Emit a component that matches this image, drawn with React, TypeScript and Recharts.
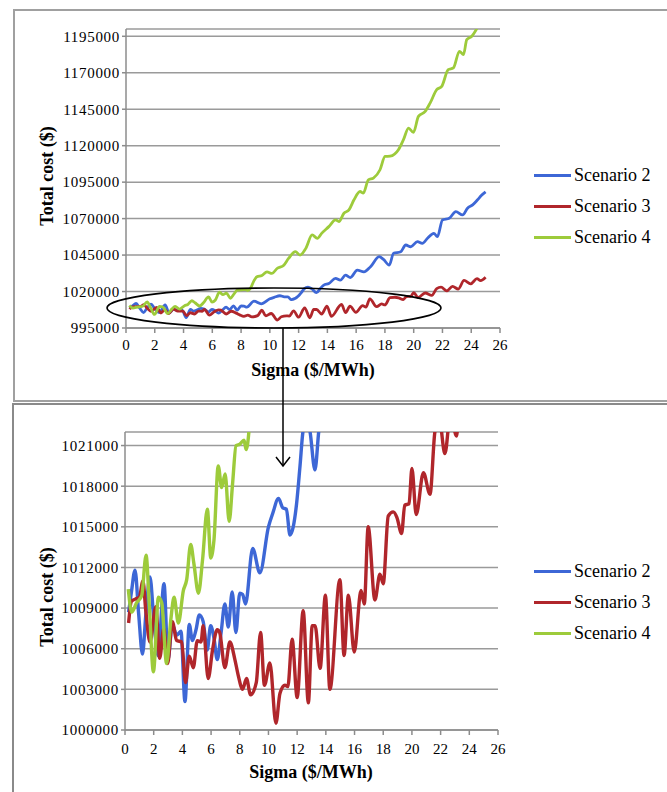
import React from 'react'
import { CartesianGrid, Legend, Line, LineChart, XAxis, YAxis } from 'recharts'

const FONT = '"Liberation Serif", "Times New Roman", serif'

const X_TICKS = [0, 2, 4, 6, 8, 10, 12, 14, 16, 18, 20, 22, 24, 26]
const TOP_Y_TICKS = [995000, 1020000, 1045000, 1070000, 1095000, 1120000, 1145000, 1170000, 1195000]
const ZOOM_Y_TICKS = [1000000, 1003000, 1006000, 1009000, 1012000, 1015000, 1018000, 1021000]

// Scenario 2
const sigma2 = [
    0.25, 0.45, 0.7, 0.95, 1.22, 1.45, 1.74, 2.0, 2.3, 2.72, 3.0, 3.3, 3.6, 3.9, 4.18, 4.48, 4.7, 4.95,
    5.18, 5.45, 5.73, 5.97, 6.2, 6.43, 6.7, 6.96, 7.2, 7.47, 7.73, 8.0, 8.2, 8.4, 8.9, 9.4, 10.0, 10.3,
    10.7, 11.0, 11.25, 11.5, 11.96, 12.2, 12.4, 12.65, 12.9, 13.24, 13.5, 13.75, 14.1, 14.57, 14.9,
    15.26, 15.6, 16.08, 16.54, 17.0, 17.6, 17.9, 18.3, 18.6, 19.1, 19.45, 19.8, 20.26, 20.6, 20.96,
    21.4, 21.65, 22.0, 22.47, 22.93, 23.4, 23.74, 24.1, 24.44, 24.7, 25.0,
]
const cost2 = [
    1008700, 1010200, 1011800, 1008600, 1005600, 1008500, 1011300, 1008300, 1005500, 1010800, 1005200,
    1007800, 1007000, 1007300, 1002100, 1007800, 1006600, 1007400, 1008500, 1008000, 1005900, 1007700,
    1006800, 1005200, 1007200, 1009300, 1007600, 1010200, 1007200, 1010100, 1010000, 1009300, 1013400,
    1011600, 1015000, 1016000, 1017100, 1016400, 1016300, 1014400, 1016700, 1019500, 1022000, 1023000,
    1022000, 1019200, 1022000, 1024400, 1025500, 1029000, 1027800, 1031200, 1029600, 1034700, 1033500,
    1037000, 1043900, 1042000, 1038100, 1046200, 1047300, 1051900, 1050700, 1054200, 1053000, 1056500,
    1059900, 1057600, 1069100, 1070200, 1074800, 1072500, 1077100, 1079400, 1082900, 1085800, 1088300,
]

// Scenario 3
const sigma3 = [
    0.25, 0.45, 0.8, 1.0, 1.25, 1.45, 1.74, 2.15, 2.42, 2.7, 2.97, 3.3, 3.6, 3.95, 4.22, 4.48, 4.76,
    5.04, 5.3, 5.45, 5.8, 6.1, 6.43, 6.6, 6.96, 7.31, 7.66, 7.9, 8.2, 8.47, 8.75, 9.15, 9.45, 9.72,
    10.1, 10.52, 10.8, 11.15, 11.35, 11.65, 12.0, 12.42, 12.78, 13.05, 13.25, 13.6, 13.97, 14.28,
    14.98, 15.27, 15.57, 15.98, 16.45, 16.68, 16.95, 17.42, 17.77, 18.0, 18.35, 18.7, 18.95, 19.28,
    19.5, 19.8, 20.0, 20.3, 20.8, 21.26, 21.6, 21.9, 22.3, 22.7, 23.1, 23.5, 23.96, 24.4, 24.65, 25.0,
]
const cost3 = [
    1007900, 1009500, 1009700, 1009800, 1011000, 1008800, 1006500, 1009100, 1005300, 1007500, 1004900,
    1008000, 1006600, 1006500, 1003500, 1005450, 1004600, 1006600, 1006500, 1007700, 1003800, 1005900,
    1007400, 1007200, 1004600, 1006500, 1005200, 1004000, 1003000, 1003800, 1002600, 1003500, 1007200,
    1003300, 1004950, 1000500, 1002700, 1003300, 1003200, 1006700, 1002400, 1008800, 1002000, 1007700,
    1007700, 1004550, 1009950, 1003000, 1011100, 1005500, 1009950, 1005750, 1010300, 1009300, 1015000,
    1009600, 1011500, 1010800, 1015800, 1016100, 1015700, 1014500, 1016600, 1016700, 1019300, 1015900,
    1019000, 1017400, 1022000, 1023000, 1020400, 1023500, 1021700, 1027600, 1025300, 1028800, 1027500,
    1029800,
]

// Scenario 4
const sigma4 = [
    0.23, 0.47, 0.81, 1.16, 1.47, 1.7, 1.98, 2.33, 2.56, 2.9, 3.19, 3.42, 3.72, 4.07, 4.3, 4.58, 4.8,
    5.12, 5.4, 5.74, 5.98, 6.2, 6.5, 6.74, 6.98, 7.26, 7.5, 7.74, 8.0, 8.3, 8.44, 8.67, 8.9, 9.1, 9.45,
    9.8, 10.15, 10.5, 10.97, 11.3, 11.78, 12.1, 12.5, 12.94, 13.3, 13.6, 14.1, 14.57, 14.8, 15.15, 15.5,
    15.85, 16.27, 16.5, 16.85, 17.2, 17.66, 18.01, 18.36, 18.94, 19.29, 19.64, 19.98, 20.33, 20.8,
    21.14, 21.6, 21.95, 22.4, 22.76, 23.18, 23.46, 23.69, 24.04, 24.39,
]
const cost4 = [
    1010400, 1008700, 1009400, 1009900, 1012900, 1009100, 1004300, 1009800, 1009400, 1004900, 1008100,
    1009800, 1007900, 1010300, 1011100, 1013700, 1012300, 1010100, 1012500, 1016300, 1012700, 1014000,
    1019500, 1017900, 1018900, 1015400, 1018200, 1021000, 1021100, 1021400, 1020700, 1022500, 1027500,
    1030100, 1031000, 1033500, 1032400, 1035800, 1038100, 1042700, 1047300, 1045000, 1049600, 1058800,
    1056500, 1059900, 1064500, 1069100, 1068000, 1073700, 1076000, 1082900, 1088600, 1087500, 1096600,
    1097800, 1103500, 1112600, 1112800, 1117200, 1124100, 1132100, 1129100, 1140100, 1143500, 1149200,
    1158400, 1160700, 1172100, 1173300, 1184700, 1182400, 1192700, 1195000, 1200300,
]

const toRows = (sigma: number[], cost: number[]) => sigma.map((s, i) => ({ sigma: s, cost: cost[i] }))

const SERIES = [
    { name: 'Scenario 2', color: '#3d67d6', data: toRows(sigma2, cost2) },
    { name: 'Scenario 3', color: '#b0262b', data: toRows(sigma3, cost3) },
    { name: 'Scenario 4', color: '#9dcb3b', data: toRows(sigma4, cost4) },
]

const renderLegend = (props: any) => (
    <div style={{ fontFamily: FONT, fontSize: 18, color: '#000' }}>
        {(props.payload || []).map((p: any) => (
            <div key={p.value} style={{ display: 'flex', alignItems: 'center', height: 31 }}>
                <span style={{ display: 'inline-block', width: 37, height: 3, background: p.color, marginRight: 3 }} />
                <span>{p.value}</span>
            </div>
        ))}
    </div>
)

interface CostChartProps {
    height: number
    yDomain: [number, number]
    yTicks: number[]
    yWidth: number
    rightMargin: number
    xAxisHeight: number
    xTickMargin: number
    lineWidth: number
    legendTop: number
    xTitle: [number, number]
    yTitle: [number, number]
}

const CostChart: React.FC<CostChartProps> = ({
    height, yDomain, yTicks, yWidth, rightMargin, xAxisHeight, xTickMargin, lineWidth, legendTop, xTitle, yTitle,
}) => (
    <LineChart width={667} height={height} margin={{ top: 29, right: rightMargin, bottom: 0, left: 0 }}>
        <CartesianGrid vertical={false} stroke="#9a9a9a" strokeWidth={1.5} />
        <XAxis
            type="number"
            dataKey="sigma"
            domain={[0, 26]}
            ticks={X_TICKS}
            allowDataOverflow
            height={xAxisHeight}
            stroke="#8c8c8c"
            strokeWidth={1.5}
            tickSize={5}
            tickMargin={xTickMargin}
            tick={{ fill: '#000', fontSize: 15, fontFamily: FONT }}
            label={() => (
                <text x={xTitle[0]} y={xTitle[1]} textAnchor="middle" dominantBaseline="central"
                    fontFamily={FONT} fontSize={18} fontWeight="bold" fill="#000">
                    Sigma ($/MWh)
                </text>
            )}
        />
        <YAxis
            type="number"
            domain={yDomain}
            ticks={yTicks}
            allowDataOverflow
            width={yWidth}
            stroke="#8c8c8c"
            strokeWidth={1.5}
            tickSize={4}
            tickMargin={2}
            tick={{ fill: '#000', fontSize: 15, fontFamily: FONT, letterSpacing: 0.7 }}
            label={() => (
                <text x={yTitle[0]} y={yTitle[1]} transform={`rotate(-90 ${yTitle[0]} ${yTitle[1]})`}
                    textAnchor="middle" dominantBaseline="central"
                    fontFamily={FONT} fontSize={18} fontWeight="bold" fill="#000">
                    Total cost ($)
                </text>
            )}
        />
        {/* align center + middle keeps the legend from eating plot space */}
        <Legend
            layout="vertical"
            align="center"
            verticalAlign="middle"
            content={renderLegend}
            wrapperStyle={{ left: 534, top: legendTop, width: 130 }}
        />
        {SERIES.map(s => (
            <Line
                key={s.name}
                data={s.data}
                dataKey="cost"
                name={s.name}
                type="monotone"
                stroke={s.color}
                strokeWidth={lineWidth}
                dot={false}
                activeDot={false}
                isAnimationActive={false}
            />
        ))}
    </LineChart>
)

export default function App() {
    return (
        <div style={{ position: 'absolute', left: 0, top: 0, width: 667, height: 792, overflow: 'hidden', background: '#fff', fontFamily: FONT }}>
            <div style={{ position: 'absolute', left: 13, top: 9, width: 664, height: 393, border: '2px solid #a0a0a0', boxSizing: 'border-box' }} />
            <div style={{ position: 'absolute', left: 12, top: 403, width: 664, height: 400, border: '2px solid #8a8a8a', boxSizing: 'border-box' }} />

            <div style={{ position: 'absolute', left: 0, top: 0 }}>
                <CostChart
                    height={400}
                    yDomain={[995000, 1200000]}
                    yTicks={TOP_Y_TICKS}
                    yWidth={126}
                    rightMargin={167}
                    xAxisHeight={72}
                    xTickMargin={6}
                    lineWidth={2.8}
                    legendTop={160}
                    xTitle={[313, 370]}
                    yTitle={[47, 176]}
                />
            </div>
            <div style={{ position: 'absolute', left: 0, top: 403 }}>
                <CostChart
                    height={389}
                    yDomain={[1000000, 1022000]}
                    yTicks={ZOOM_Y_TICKS}
                    yWidth={125}
                    rightMargin={169}
                    xAxisHeight={62}
                    xTickMargin={8}
                    lineWidth={3.4}
                    legendTop={153}
                    xTitle={[311, 369]}
                    yTitle={[47, 194]}
                />
            </div>

            {/* zoom marker: ellipse round the low region and arrow down to the detail chart */}
            <svg width={667} height={792} style={{ position: 'absolute', left: 0, top: 0, pointerEvents: 'none' }}>
                <ellipse cx={274} cy={308} rx={167} ry={20} fill="none" stroke="#000" strokeWidth={1.6} />
                <line x1={283} y1={328} x2={283} y2={466} stroke="#000" strokeWidth={1.5} />
                <polyline points="276,457 283,466 290,457" fill="none" stroke="#000" strokeWidth={1.5} />
            </svg>
        </div>
    )
}
